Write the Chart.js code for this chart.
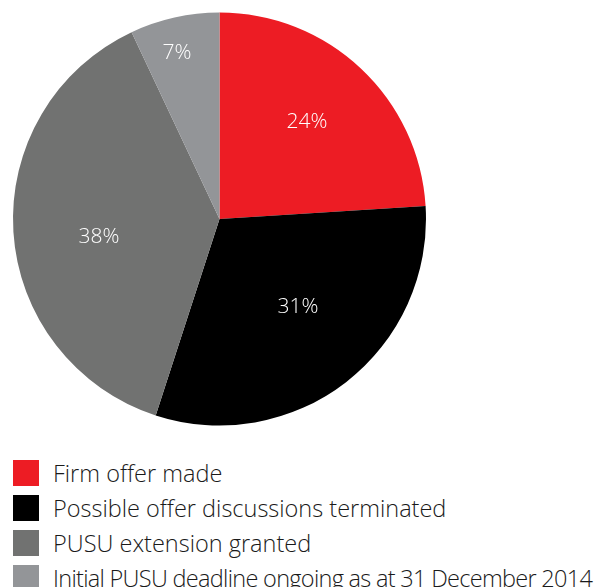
<!DOCTYPE html>
<html>
<head>
<meta charset="utf-8">
<script src="https://cdn.jsdelivr.net/npm/chart.js@4"></script>
<style>
  body { margin: 0; background: #fff; font-family: "Open Sans", sans-serif; }
  #wrap { position: absolute; left: 0; top: 0; width: 439px; height: 438px; }
  #legend { position: absolute; left: 13px; top: 455px; }
  .row { display: flex; align-items: center; height: 35px; font-size: 23.5px; font-weight: 300; color: #1a1a1a; white-space: nowrap; }
  .row:last-child { letter-spacing: -0.7px; }
  .box { width: 26px; height: 26px; margin-right: 14px; flex: none; }
</style>
</head>
<body>
<div id="wrap"><canvas id="pie"></canvas></div>
<div id="legend"></div>
<script>
const labels = [
  "Firm offer made",
  "Possible offer discussions terminated",
  "PUSU extension granted",
  "Initial PUSU deadline ongoing as at 31 December 2014",
];
const values = [24, 31, 38, 7];
const colors = ["#ED1C24", "#000000", "#717271", "#939598"];
// where each percentage sits inside its slice
const labelRadius = [0.633, 0.571, 0.59, 0.83];
const labelShift = [-1.2, -3.9, -4.9, -1.8]; // degrees

const legend = document.getElementById("legend");
labels.forEach((label, i) => {
  const row = document.createElement("div");
  row.className = "row";
  row.innerHTML = '<span class="box" style="background:' + colors[i] + '"></span>' + label;
  legend.appendChild(row);
});

const sliceLabels = {
  id: "sliceLabels",
  afterDatasetsDraw(chart) {
    const ctx = chart.ctx;
    const arcs = chart.getDatasetMeta(0).data;
    ctx.save();
    ctx.fillStyle = "#ffffff";
    ctx.font = "300 21px 'Open Sans', sans-serif";
    ctx.textAlign = "center";
    ctx.textBaseline = "middle";
    arcs.forEach((arc, i) => {
      const mid = (arc.startAngle + arc.endAngle) / 2 + (labelShift[i] * Math.PI) / 180;
      const r = arc.outerRadius * labelRadius[i];
      ctx.fillText(values[i] + "%", arc.x + Math.cos(mid) * r, arc.y + Math.sin(mid) * r);
    });
    ctx.restore();
  },
};

new Chart(document.getElementById("pie"), {
  type: "pie",
  data: {
    labels: labels,
    datasets: [
      {
        data: values,
        backgroundColor: colors,
        borderWidth: 0,
      },
    ],
  },
  options: {
    responsive: true,
    maintainAspectRatio: false,
    animation: false,
    layout: { padding: { left: 13, right: 13, top: 12, bottom: 12 } },
    plugins: {
      legend: { display: false },
      tooltip: { enabled: false },
    },
  },
  plugins: [sliceLabels],
});
</script>
</body>
</html>
